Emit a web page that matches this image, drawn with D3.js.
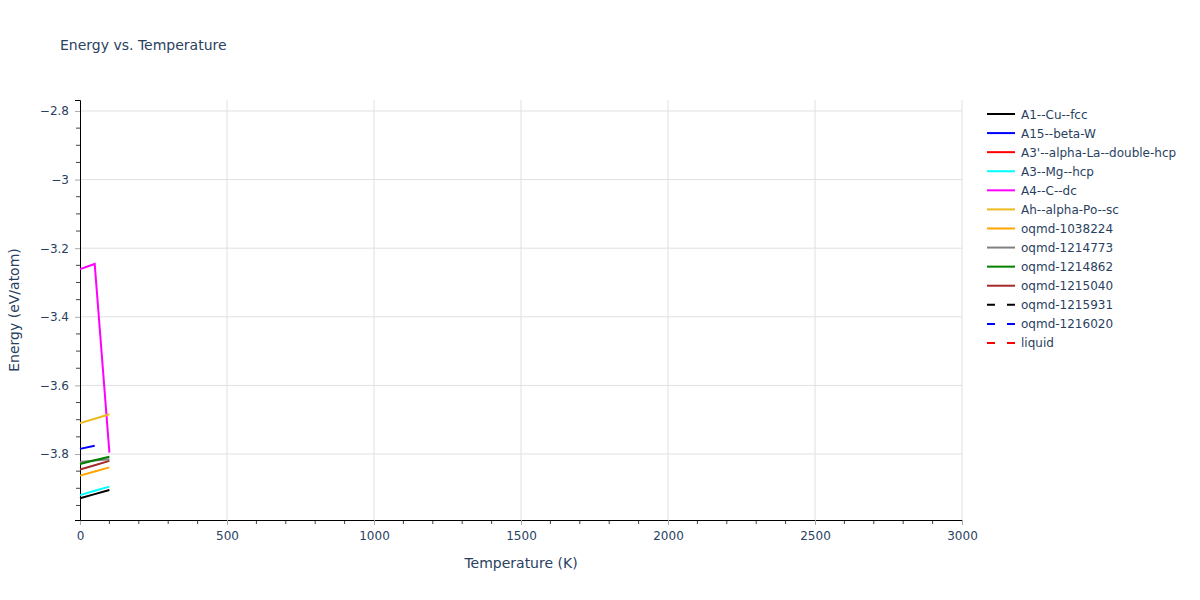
<!DOCTYPE html>
<html>
<head>
<meta charset="utf-8">
<script src="https://cdn.jsdelivr.net/npm/d3@7"></script>
<style>
  body { margin: 0; background: #fff; }
  text { font-family: "DejaVu Sans", verdana, arial, sans-serif; fill: #2a3f5f; }
</style>
</head>
<body>
<div id="chart"></div>
<script>
// phases, in legend order
const phases = ['A1--Cu--fcc', 'A15--beta-W', "A3'--alpha-La--double-hcp", 'A3--Mg--hcp', 'A4--C--dc',
  'Ah--alpha-Po--sc', 'oqmd-1038224', 'oqmd-1214773', 'oqmd-1214862', 'oqmd-1215040',
  'oqmd-1215931', 'oqmd-1216020', 'liquid']
const colors = ['black', 'blue', 'red', 'cyan', 'magenta', '#edb91f', 'orange', 'gray', 'green', 'brown',
  'black', 'blue', 'red']
const dashed = [false, false, false, false, false, false, false, false, false, false, true, true, true]

const temps = [0, 50, 100]
// energy (eV/atom) per phase at temps
const energies = [
  [-3.929, -3.917, -3.905],
  [-3.785, -3.776],
  [],
  [-3.920, -3.907, -3.895],
  [-3.261, -3.246, -3.796],
  [-3.710, -3.697, -3.684],
  [-3.863, -3.851, -3.839],
  [-3.823, -3.819, -3.815],
  [-3.829, -3.818, -3.808],
  [-3.845, -3.833, -3.820],
  [],
  [],
  []
]

const xTicks = [0, 500, 1000, 1500, 2000, 2500, 3000]
const yTicks = [-3.8, -3.6, -3.4, -3.2, -3, -2.8]

const width = 1200, height = 600
const margin = { top: 100, right: 238, bottom: 80, left: 80 }

const svg = d3.select('#chart').append('svg')
  .attr('width', width)
  .attr('height', height)

const x = d3.scaleLinear().domain([0, 3000]).range([margin.left, width - margin.right])
const y = d3.scaleLinear().domain([-3.9924, -2.768]).range([height - margin.bottom, margin.top])

// gridlines
svg.append('g')
  .selectAll('line')
  .data(xTicks.filter(d => d > 0))
  .join('line')
  .attr('x1', d => x(d)).attr('x2', d => x(d))
  .attr('y1', margin.top).attr('y2', height - margin.bottom)
  .attr('stroke', '#e0e0e0')

svg.append('g')
  .selectAll('line')
  .data(yTicks)
  .join('line')
  .attr('x1', margin.left).attr('x2', width - margin.right)
  .attr('y1', d => y(d)).attr('y2', d => y(d))
  .attr('stroke', '#e0e0e0')

// minor ticks
svg.append('g')
  .selectAll('line')
  .data(d3.range(0, 3001, 100).filter(d => d % 500 !== 0))
  .join('line')
  .attr('x1', d => x(d)).attr('x2', d => x(d))
  .attr('y1', height - margin.bottom).attr('y2', height - margin.bottom + 4)
  .attr('stroke', '#444')

svg.append('g')
  .selectAll('line')
  .data(d3.range(-3.95, -2.76, 0.05).filter(d => Math.abs(Math.round(d * 5) - d * 5) > 0.01))
  .join('line')
  .attr('x1', margin.left - 4).attr('x2', margin.left)
  .attr('y1', d => y(d)).attr('y2', d => y(d))
  .attr('stroke', '#444')

// axes
const xAxis = svg.append('g')
  .attr('transform', `translate(0,${height - margin.bottom})`)
  .call(d3.axisBottom(x).tickValues(xTicks).tickSize(5).tickPadding(6).tickFormat(d3.format('d')))
xAxis.select('.domain').attr('stroke', '#000')
xAxis.selectAll('.tick line').attr('stroke', '#aaa')
xAxis.selectAll('.tick text').style('font-size', '12px').attr('fill', '#2a3f5f')

const yAxis = svg.append('g')
  .attr('transform', `translate(${margin.left},0)`)
  .call(d3.axisLeft(y).tickValues(yTicks).tickSize(5).tickPadding(6).tickFormat(d => d3.format('')(d).replace('-', '\u2212')))
yAxis.select('.domain').attr('stroke', '#000')
yAxis.selectAll('.tick line').attr('stroke', '#aaa')
yAxis.selectAll('.tick text').style('font-size', '12px').attr('fill', '#2a3f5f')

// lines
const line = d3.line()
  .x((d, i) => x(temps[i]))
  .y(d => y(d))

svg.append('g')
  .selectAll('path')
  .data(energies.map((v, i) => ({ v, i })).filter(d => d.v.length))
  .join('path')
  .attr('d', d => line(d.v))
  .attr('fill', 'none')
  .attr('stroke', d => colors[d.i])
  .attr('stroke-width', 2)
  .attr('stroke-dasharray', d => dashed[d.i] ? '8,8' : null)

// titles
svg.append('text')
  .attr('x', 60).attr('y', 50)
  .style('font-size', '14px')
  .text('Energy vs. Temperature')

svg.append('text')
  .attr('x', (x(0) + x(3000)) / 2).attr('y', 568)
  .attr('text-anchor', 'middle')
  .style('font-size', '14px')
  .text('Temperature (K)')

svg.append('text')
  .attr('transform', `translate(19,${(y.range()[0] + y.range()[1]) / 2}) rotate(-90)`)
  .attr('text-anchor', 'middle')
  .style('font-size', '14px')
  .text('Energy (eV/atom)')

// legend
const legend = svg.append('g')
  .selectAll('g')
  .data(phases)
  .join('g')
  .attr('transform', (d, i) => `translate(987,${114 + i * 19.08})`)

legend.append('line')
  .attr('x1', 0).attr('x2', 28)
  .attr('stroke', (d, i) => colors[i])
  .attr('stroke-width', 2)
  .attr('stroke-dasharray', (d, i) => dashed[i] ? '8,12' : null)

legend.append('text')
  .attr('x', 34).attr('y', 4.5)
  .style('font-size', '12px')
  .text(d => d)
</script>
</body>
</html>
